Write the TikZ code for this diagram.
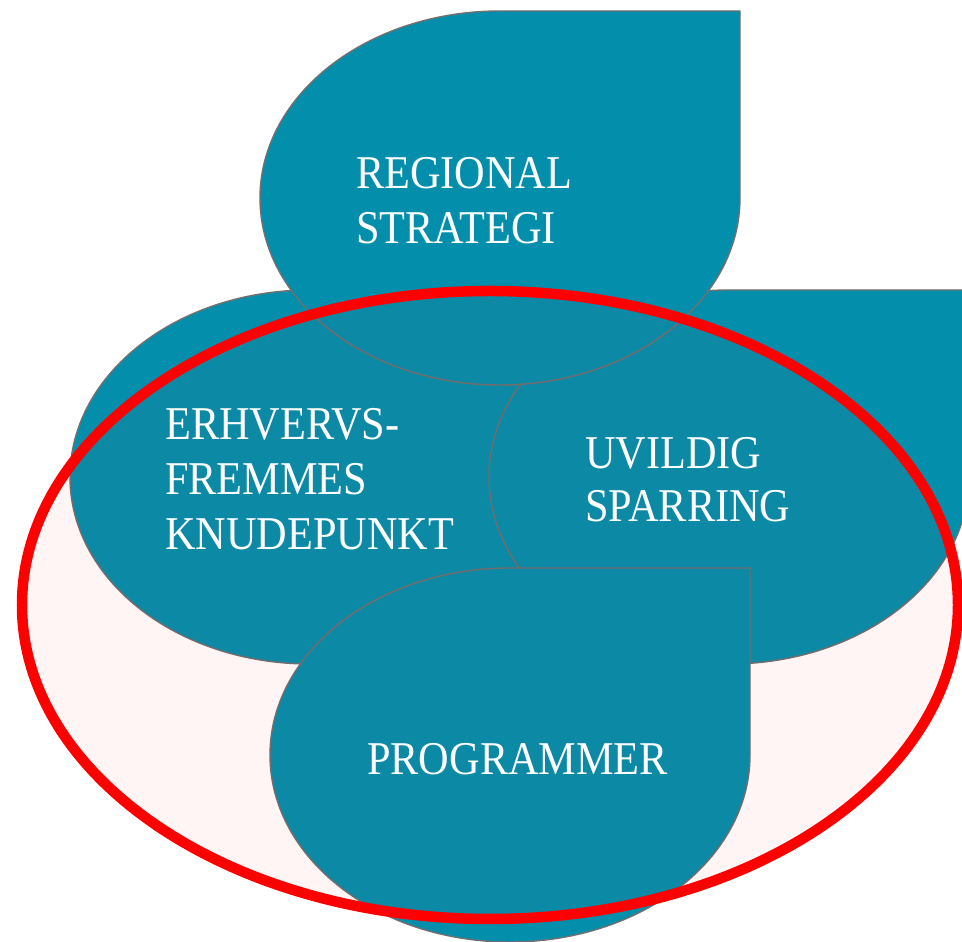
\documentclass[tikz,border=0pt]{standalone}
\usepackage{fontspec}
\setmainfont[FakeStretch=0.9]{Liberation Serif}
\definecolor{teal1}{RGB}{3,143,172}
\definecolor{edgegray}{RGB}{112,112,112}
\definecolor{ringred}{RGB}{255,0,0}
\newcommand\teardrop[4]{% cx, cy, rx, ry
  (#1-#3,#2) arc[start angle=180,end angle=90,x radius=#3pt,y radius=#4pt]
  -- (#1+#3,#2+#4) -- (#1+#3,#2)
  arc[start angle=0,end angle=-180,x radius=#3pt,y radius=#4pt] -- cycle}
\tikzset{
  drop/.style={fill=teal1,draw=edgegray,line width=1.4pt},
  ring/.style={draw=ringred,line width=10.5pt,fill=ringred,fill opacity=0.04},
  label/.style={anchor=north west,inner sep=0pt,text=white,align=left}
}
\begin{document}
\begin{tikzpicture}[x=1pt,y=1pt]
\useasboundingbox (0,0) rectangle (962,942);
\clip (0,0) rectangle (962,942);
\fill[white] (0,0) rectangle (962,942);
% left, right, top, bottom drops
\path[drop] \teardrop{310}{465}{240}{187};
\path[drop] \teardrop{729}{465}{240}{187};
\path[drop] \teardrop{500}{744}{240}{187};
\path[drop] \teardrop{510}{187}{240}{187};
% red ring
\path[ring] (490,337) ellipse[x radius=468pt,y radius=314pt];
% labels
\node[label,font=\fontsize{47}{55}\selectfont] (regional) at (356,785) {REGIONAL\\STRATEGI};
\node[label,font=\fontsize{47}{55}\selectfont] (erhverv) at (165,534) {ERHVERVS-\\FREMMES\\KNUDEPUNKT};
\node[label,font=\fontsize{47}{53}\selectfont] (uvildig) at (585,505) {UVILDIG\\SPARRING};
\node[label,font=\fontsize{47}{55}\selectfont] (program) at (367,199) {PROGRAMMER};
\end{tikzpicture}
\end{document}
